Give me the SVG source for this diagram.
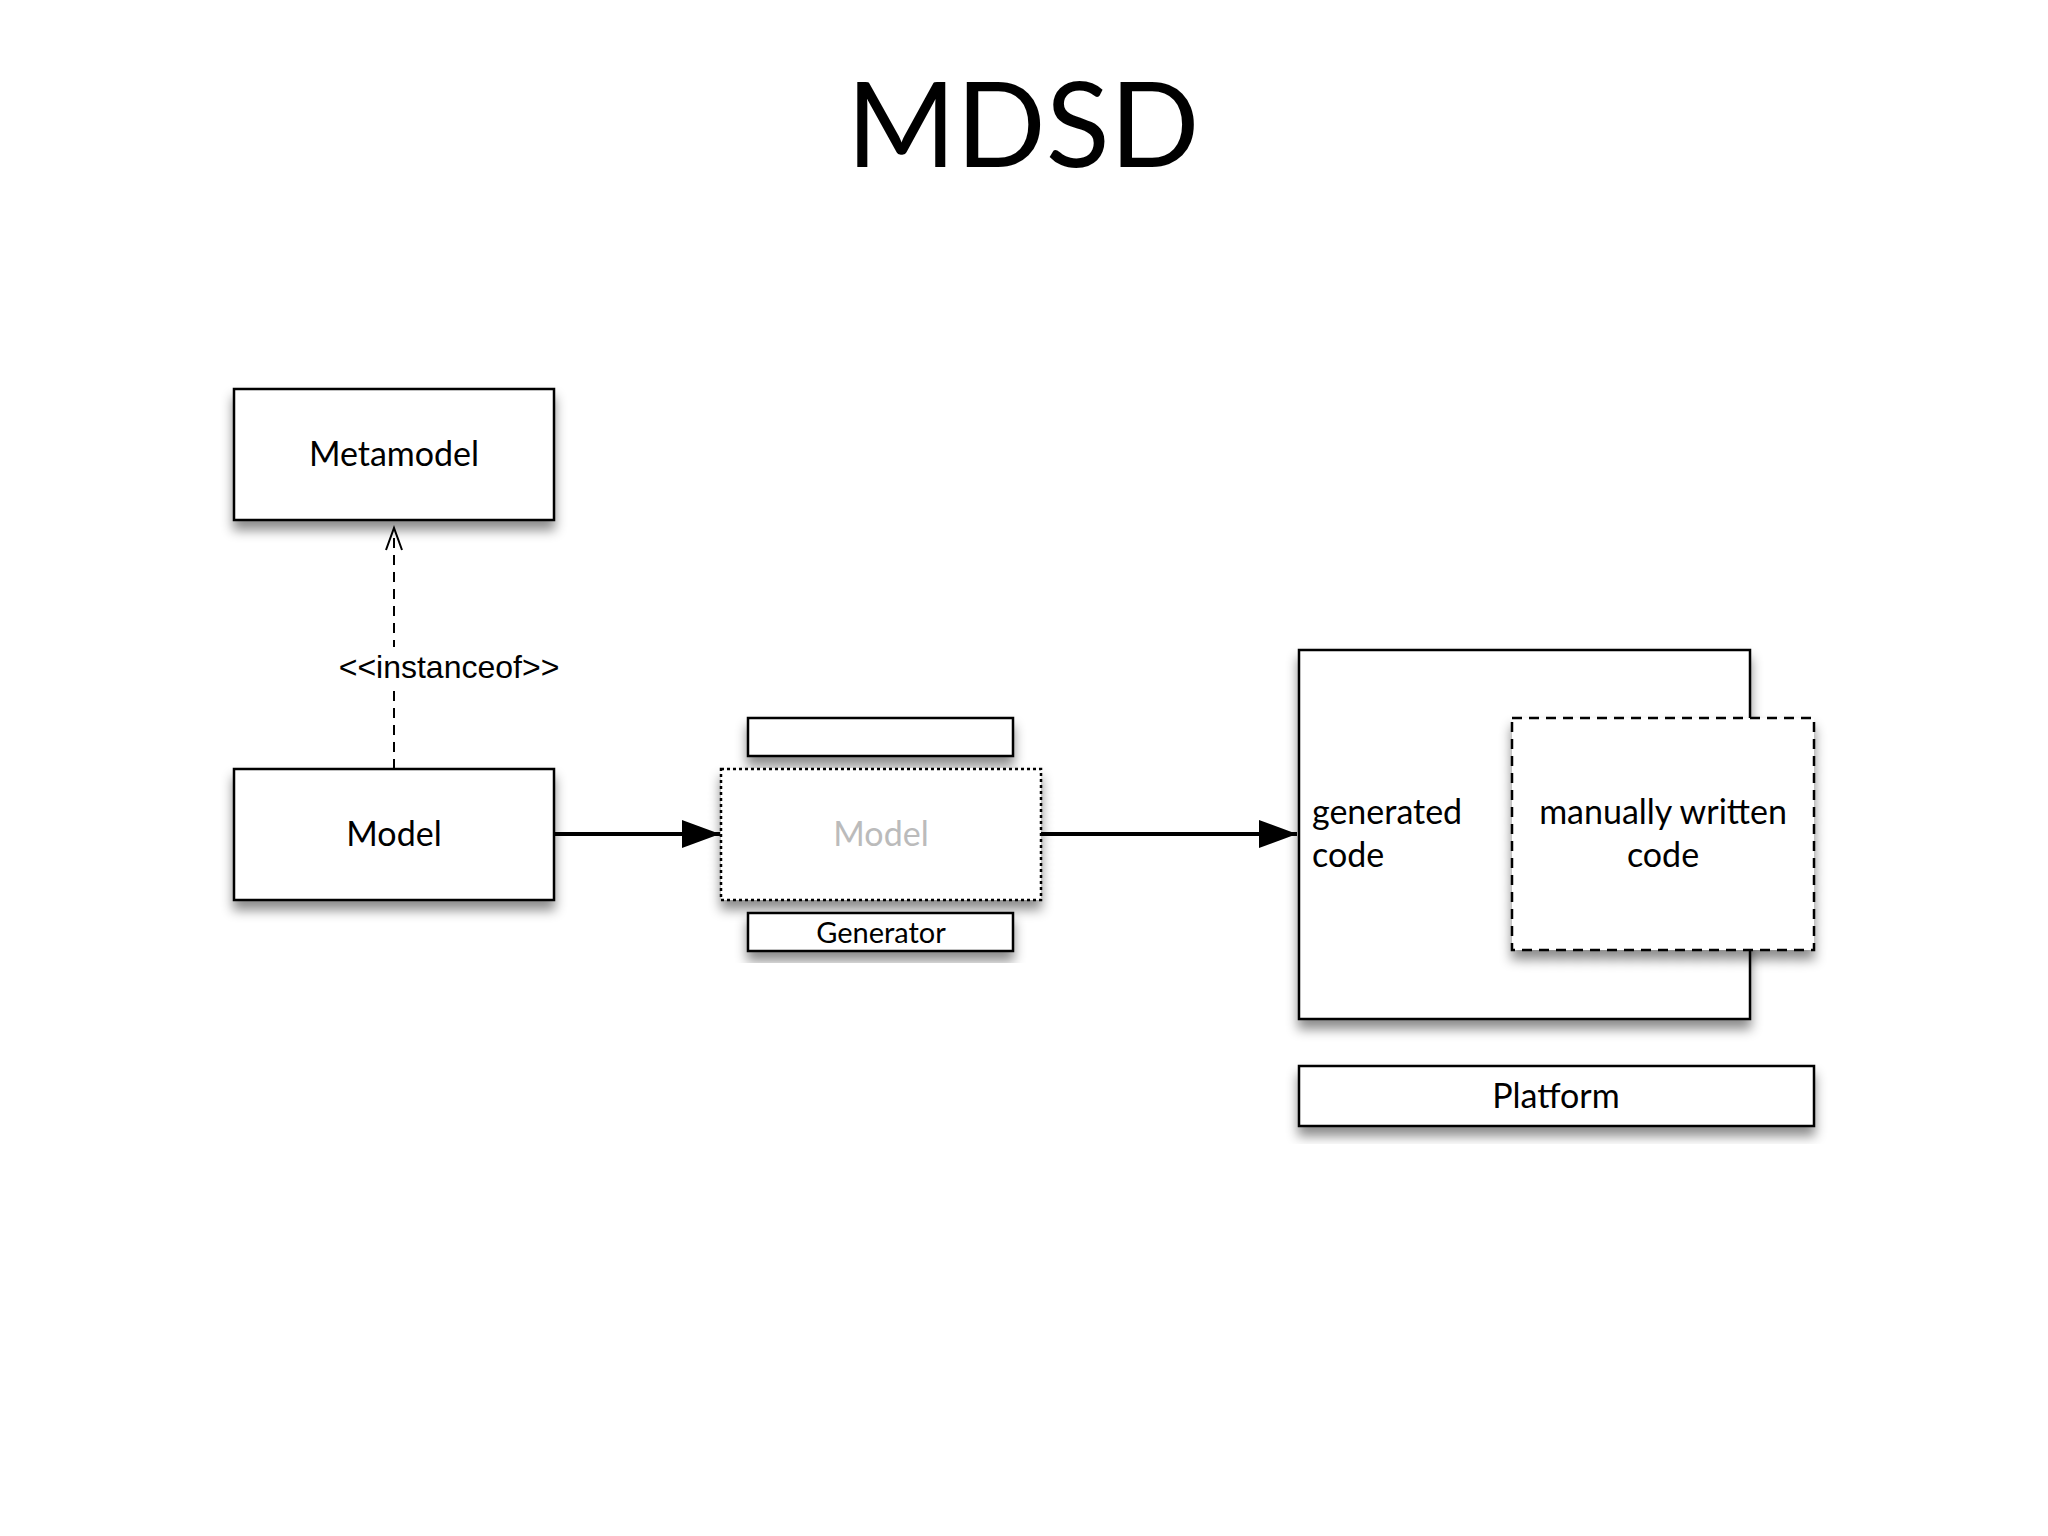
<svg xmlns="http://www.w3.org/2000/svg" width="2048" height="1536" viewBox="0 0 2048 1536">
<defs>
<filter id="sh" x="-10%" y="-10%" width="120%" height="140%"><feDropShadow dx="0" dy="9" stdDeviation="6" flood-color="#000" flood-opacity="0.45"/></filter>
<marker id="tri" markerWidth="38" markerHeight="28" refX="38" refY="14" orient="auto" markerUnits="userSpaceOnUse" viewBox="0 0 38 28"><path d="M0,0 L38,14 L0,28 Z" fill="#000"/></marker>
<style>
.b{fill:#fff;stroke:#000;stroke-width:2.5}
.t{font-family:Lato,"Open Sans",sans-serif;font-size:34px;fill:#000}
</style>
</defs>
<rect width="2048" height="1536" fill="#fff"/>
<text x="1023" y="167" text-anchor="middle" font-family="Lato,'Open Sans',sans-serif" font-size="118" fill="#000">MDSD</text>
<g id="connectors">
<line x1="394" y1="769" x2="394" y2="528" stroke="#000" stroke-width="2" stroke-dasharray="10,7"/>
<path d="M386,550 L394,528 L402,550" fill="none" stroke="#000" stroke-width="2"/>
<rect x="330" y="647" width="240" height="38" fill="#fff"/>
<text x="449" y="678" text-anchor="middle" font-family="'Liberation Sans',Arial,sans-serif" font-size="32" fill="#000">&lt;&lt;instanceof&gt;&gt;</text>
<line x1="554" y1="834" x2="720" y2="834" stroke="#000" stroke-width="4" marker-end="url(#tri)"/>
<line x1="1041" y1="834" x2="1297" y2="834" stroke="#000" stroke-width="4" marker-end="url(#tri)"/>
</g>
<g id="metamodel"><rect class="b" x="234" y="389" width="320" height="131" filter="url(#sh)"/><text class="t" x="394" y="466" text-anchor="middle">Metamodel</text></g>
<g id="model"><rect class="b" x="234" y="769" width="320" height="131" filter="url(#sh)"/><text class="t" x="394" y="846" text-anchor="middle">Model</text></g>
<g id="topbar"><rect class="b" x="748" y="718" width="265" height="38" filter="url(#sh)"/></g>
<g id="genmodel"><rect x="721" y="769" width="320" height="131" fill="#fff" stroke="#000" stroke-width="2.5" stroke-dasharray="3,3" filter="url(#sh)"/><text class="t" x="881" y="846" text-anchor="middle" style="fill:#bbb">Model</text></g>
<g id="generator"><rect class="b" x="748" y="913" width="265" height="38" filter="url(#sh)"/><text class="t" x="881" y="943" text-anchor="middle" style="font-size:29px">Generator</text></g>
<g id="generated"><rect class="b" x="1299" y="650" width="451" height="369" filter="url(#sh)"/><text class="t" x="1312" y="824">generated</text><text class="t" x="1312" y="867">code</text></g>
<g id="manual"><rect x="1512" y="718" width="302" height="232" fill="#fff" stroke="#000" stroke-width="2.5" stroke-dasharray="10,7" filter="url(#sh)"/><text class="t" x="1663" y="824" text-anchor="middle">manually written</text><text class="t" x="1663" y="867" text-anchor="middle">code</text></g>
<g id="platform"><rect class="b" x="1299" y="1066" width="515" height="60" filter="url(#sh)"/><text class="t" x="1556" y="1108" text-anchor="middle">Platform</text></g>
</svg>
